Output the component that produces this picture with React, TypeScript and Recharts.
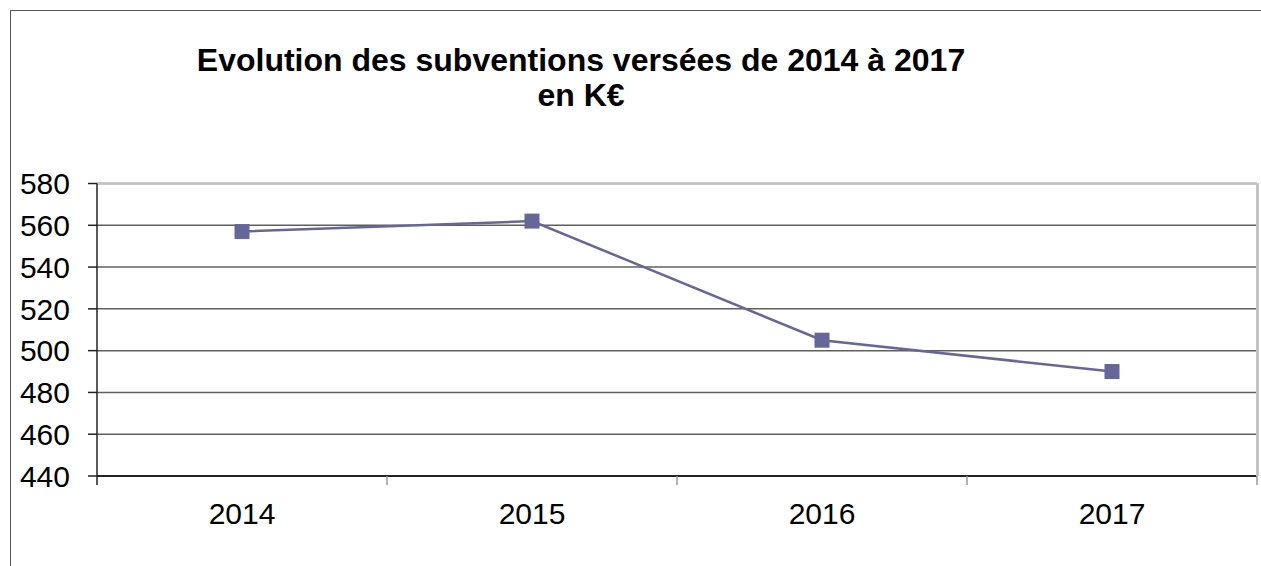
import React from 'react';
import { LineChart, Line, XAxis, YAxis, CartesianGrid, ReferenceLine } from 'recharts';

const years = ['2014', '2015', '2016', '2017'];
const subventions = [557, 562, 505, 490];
const yTicks = [440, 460, 480, 500, 520, 540, 560, 580];

const data = years.map((year, i) => ({ year, value: subventions[i] }));

const PLOT_LEFT = 97;
const PLOT_RIGHT = 1257;
const PLOT_TOP = 183.5;
const PLOT_BOTTOM = 476;
const BAND = (PLOT_RIGHT - PLOT_LEFT) / years.length;

const YearTick = (props: any) => {
  const { x, y, payload, index } = props;
  const last = index === years.length - 1;
  return (
    <g>
      <line x1={x - BAND / 2} y1={y} x2={x - BAND / 2} y2={y + 9} stroke={index === 0 ? '#222' : '#999'} strokeWidth={1.5} />
      {last && <line x1={x + BAND / 2} y1={y} x2={x + BAND / 2} y2={y + 9} stroke="#999" strokeWidth={1.5} />}
      <text x={x} y={y + 48} textAnchor="middle" fontSize={30} fill="#000">
        {payload.value}
      </text>
    </g>
  );
};

const SquareDot = (props: any) => {
  const { cx, cy, index } = props;
  return <rect key={`dot-${index}`} x={cx - 7.5} y={cy - 7.5} width={15} height={15} fill="#666699" />;
};

const App: React.FC = () => {
  return (
    <div
      style={{
        position: 'absolute',
        left: 0,
        top: 0,
        width: 1261,
        height: 566,
        background: '#fff',
        fontFamily: '"Liberation Sans", Arial, sans-serif',
        overflow: 'hidden',
      }}
    >
      <div
        style={{
          position: 'absolute',
          left: 10,
          top: 10,
          width: 1260,
          height: 560,
          borderLeft: '1.5px solid #555',
          borderTop: '1.5px solid #555',
        }}
      />
      <div
        style={{
          position: 'absolute',
          left: 0,
          top: 43,
          width: 1162,
          textAlign: 'center',
          fontSize: 32,
          fontWeight: 'bold',
          lineHeight: '35px',
          color: '#000',
        }}
      >
        Evolution des subventions versées de 2014 à 2017
        <br />
        en K€
      </div>
      <div style={{ position: 'absolute', left: 0, top: 0 }}>
        <LineChart width={1261} height={566} data={data} margin={{ top: PLOT_TOP, right: 1261 - PLOT_RIGHT, bottom: 0, left: 0 }}>
          <CartesianGrid vertical={false} stroke="#5f5f5f" strokeWidth={1.5} />
          <ReferenceLine y={580} stroke="#c4c4c4" strokeWidth={2.5} />
          <XAxis
            dataKey="year"
            scale="band"
            tickSize={0}
            tickMargin={0}
            tickLine={false}
            axisLine={{ stroke: '#222', strokeWidth: 2 }}
            tick={<YearTick />}
            height={566 - PLOT_BOTTOM}
            interval={0}
          />
          <YAxis
            domain={[440, 580]}
            ticks={yTicks}
            width={PLOT_LEFT}
            tickSize={9}
            tickMargin={18}
            tick={{ fontSize: 30, fill: '#000' }}
            tickLine={{ stroke: '#222', strokeWidth: 1.5 }}
            axisLine={{ stroke: '#222', strokeWidth: 1.5 }}
            interval={0}
          />
          <Line
            dataKey="value"
            stroke="#666699"
            strokeWidth={2.5}
            dot={SquareDot}
            activeDot={false}
            isAnimationActive={false}
          />
        </LineChart>
      </div>
      {/* light grey right edge of the plot area */}
      <div
        style={{
          position: 'absolute',
          left: PLOT_RIGHT - 1.5,
          top: PLOT_TOP - 1,
          width: 3,
          height: PLOT_BOTTOM - PLOT_TOP + 1,
          background: '#c4c4c4',
        }}
      />
    </div>
  );
};

export default App;
